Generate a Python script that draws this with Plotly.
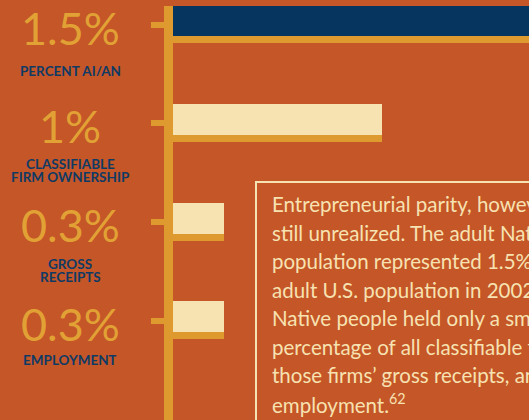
import plotly.graph_objects as go

# ---- data ----
categories = ["Percent AI/AN", "Classifiable firm ownership", "Gross receipts", "Employment"]
value_labels = ["1.5%", "1%", "0.3%", "0.3%"]
caption_labels = [["PERCENT AI/AN"], ["CLASSIFIABLE", "FIRM OWNERSHIP"], ["GROSS", "RECEIPTS"], ["EMPLOYMENT"]]
bar_lengths = [1.75, 1.0, 0.245, 0.245]   # drawn lengths
text_lines = [
    "Entrepreneurial parity, however, is",
    "still unrealized. The adult Native",
    "population represented 1.5% of the",
    "adult U.S. population in 2002. Yet",
    "Native people held only a small",
    "percentage of all classifiable firms,",
    "those firms\u2019 gross receipts, and",
    "employment.<sup>62</sup>",
]

# ---- style ----
BG = "#C45628"
GOLD = "#DE9A2E"
NAVY = "#06365F"
CREAM = "#F7E2B1"
CAP_NAVY = "#0F3A64"
NUM_GOLD = "#E2A134"
bar_colors = [NAVY, CREAM, CREAM, CREAM]

W, H = 529, 420
ML, MT = 173, 6
plot_w, plot_h = W - ML, H - MT
SPACING = 98.8          # px between categories
TICK0 = 24.5            # px of first tick from top
px_per_unit = 209.0

pos = list(range(len(categories)))

fig = go.Figure()
fig.add_trace(go.Bar(
    x=bar_lengths, y=pos, orientation="h",
    width=38 / SPACING, offset=-19.5 / SPACING,
    marker=dict(color=GOLD, line=dict(width=0)),
    hoverinfo="skip", showlegend=False,
))
fig.add_trace(go.Bar(
    x=bar_lengths, y=pos, orientation="h",
    width=31 / SPACING, offset=-19.5 / SPACING,
    marker=dict(color=bar_colors, line=dict(width=0)),
    hovertext=[f"{c}: {v}" for c, v in zip(categories, value_labels)],
    hoverinfo="text", showlegend=False,
))

y_top = -(TICK0 - MT) / SPACING
y_bot = y_top + plot_h / SPACING

cap_shift = [-46, -40, -41, -39]
annotations = []
for i, (v, caps) in enumerate(zip(value_labels, caption_labels)):
    annotations.append(dict(
        x=(70 - ML) / plot_w, xref="paper", y=i, yref="y", yshift=-3,
        text=v, showarrow=False, xanchor="center", yanchor="middle",
        font=dict(family="Lato", size=45, color=NUM_GOLD, weight=400),
    ))
    for j, cap in enumerate(caps):
        annotations.append(dict(
            x=(70 - ML) / plot_w, xref="paper", y=i, yref="y",
            yshift=cap_shift[i] - 13 * j, height=11,
            text=cap, showarrow=False, xanchor="center", yanchor="middle",
            font=dict(family="Lato", size=13.5, color=CAP_NAVY, weight="bold"),
        ))

for k, line in enumerate(text_lines):
    center_px = 204.0 + 28.5 * k
    annotations.append(dict(
        x=(270 - ML) / plot_w, xref="paper",
        y=(H - center_px) / plot_h, yref="paper",
        text=line, showarrow=False, xanchor="left", yanchor="middle",
        font=dict(family="Lato", size=20.5, color=CREAM),
    ))

fig.update_layout(
    width=W, height=H,
    margin=dict(l=ML, r=0, t=MT, b=0, pad=0, autoexpand=False),
    paper_bgcolor=BG, plot_bgcolor=BG,
    barmode="overlay", bargap=0,
    xaxis=dict(range=[0, plot_w / px_per_unit], visible=False,
               fixedrange=True, automargin=False),
    yaxis=dict(
        range=[y_bot, y_top], tickvals=pos, ticktext=categories,
        showticklabels=False, ticks="outside", ticklen=13, tickwidth=5.5,
        tickcolor=GOLD, showline=True, linewidth=9, linecolor=GOLD,
        showgrid=False, zeroline=False, fixedrange=True, automargin=False,
    ),
    shapes=[dict(
        type="rect", xref="paper", yref="paper",
        x0=(256 - ML) / plot_w, x1=1.3,
        y0=-0.2, y1=(H - 182) / plot_h,
        line=dict(color=CREAM, width=2), fillcolor="rgba(0,0,0,0)",
        layer="above",
    )],
    annotations=annotations,
)

fig.write_html(
    "out.html",
    config={"displayModeBar": False},
    post_script="document.body.style.margin='0';document.body.style.background='" + BG + "';",
)
